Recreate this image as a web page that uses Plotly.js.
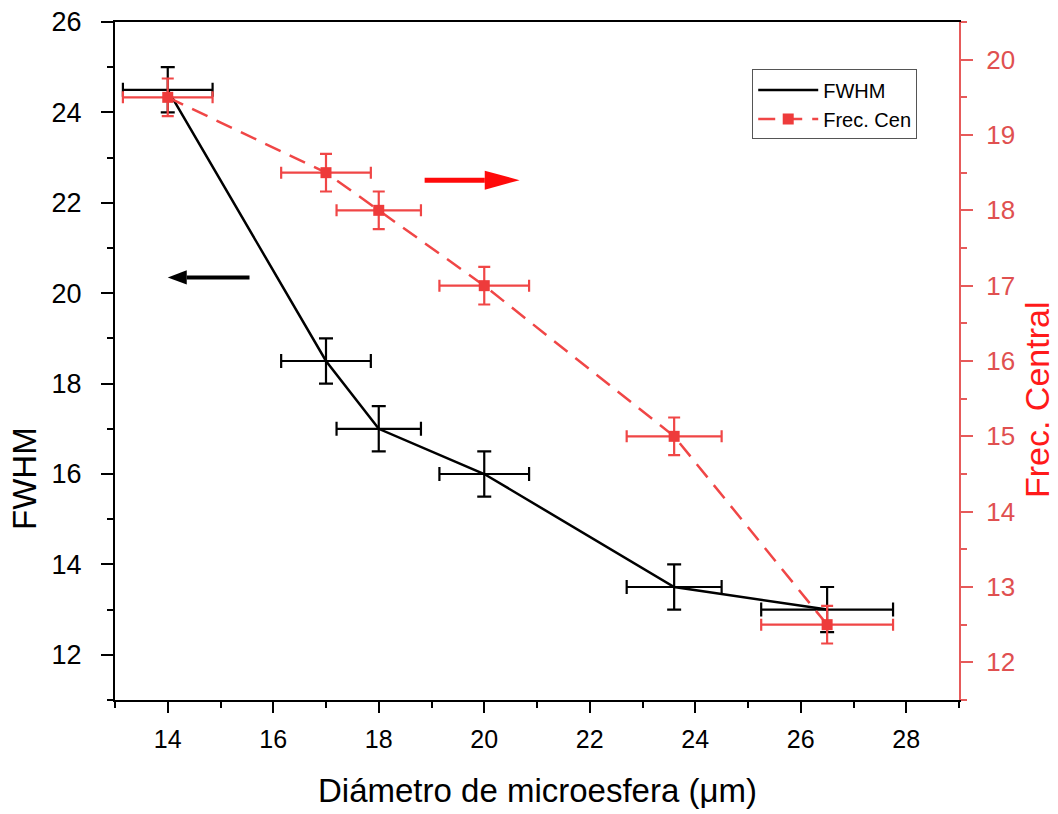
<!DOCTYPE html>
<html>
<head>
<meta charset="utf-8">
<script src="https://cdn.plot.ly/plotly-3.0.1.min.js"></script>
<style>
  html, body { margin: 0; padding: 0; background: #ffffff; }
  #chart { width: 1058px; height: 814px; }
</style>
</head>
<body>
<div id="chart"></div>
<script>
// Microsphere diameter (µm) with its uncertainty
const diameter = [14, 17, 18, 20, 23.6, 26.5];
const diameterErr = [0.85, 0.85, 0.8, 0.85, 0.9, 1.25];

// Linewidth (FWHM), left axis
const fwhm = [24.5, 18.5, 17, 16, 13.5, 13];
const fwhmErr = [0.5, 0.5, 0.5, 0.5, 0.5, 0.5];

// Central frequency, right axis
const frecCentral = [19.5, 18.5, 18, 17, 15, 12.5];
const frecErr = [0.25, 0.25, 0.25, 0.25, 0.25, 0.25];

const seriesNames = ['FWHM', 'Frec. Cen'];
const axisTitles = {
  x: 'Diámetro de microesfera (μm)',
  left: 'FWHM',
  right: 'Frec. Central'
};

const FONT = 'Liberation Sans, Arial, Helvetica, sans-serif';
const RED = '#f04646';
const RED_AXIS = '#e65a5a';

const traces = [
  {
    x: diameter,
    y: fwhm,
    name: seriesNames[0],
    type: 'scatter',
    mode: 'lines',
    line: { color: '#000000', width: 2.5 },
    error_x: { type: 'data', array: diameterErr, visible: true, color: '#000000', thickness: 2.2, width: 7 },
    error_y: { type: 'data', array: fwhmErr, visible: true, color: '#000000', thickness: 2.2, width: 7 },
    yaxis: 'y'
  },
  {
    x: diameter,
    y: frecCentral,
    name: seriesNames[1],
    type: 'scatter',
    mode: 'lines+markers',
    line: { color: RED, width: 2.5, dash: '17px,10px' },
    marker: { symbol: 'square', size: 11, color: '#ee3b3b' },
    error_x: { type: 'data', array: diameterErr, visible: true, color: RED, thickness: 2.2, width: 6 },
    error_y: { type: 'data', array: frecErr, visible: true, color: RED, thickness: 2.2, width: 6 },
    yaxis: 'y2'
  }
];

// Direction arrows pointing to each series' axis
const arrowY = { left: 20.35, right: 22.5 };
function arrowShapes(x0, x1, y, headLen, headHalf, color, width) {
  const dir = Math.sign(x1 - x0);
  const base = x1 - dir * headLen;
  return [
    { type: 'line', xref: 'x', yref: 'y', x0: x0, x1: base, y0: y, y1: y,
      line: { color: color, width: width } },
    { type: 'path', xref: 'x', yref: 'y',
      path: `M${base},${y - headHalf} L${x1},${y} L${base},${y + headHalf} Z`,
      fillcolor: color, line: { color: color, width: 0 } }
  ];
}
const shapes = []
  .concat(arrowShapes(15.55, 14.0, arrowY.left, 0.36, 0.16, '#000000', 4))
  .concat(arrowShapes(18.87, 20.67, arrowY.right, 0.66, 0.21, '#ff0a0a', 5));

// Axis titles placed as paper-anchored annotations
const annotations = [
  { text: axisTitles.x, xref: 'paper', yref: 'paper', x: 0.5, y: -0.133,
    xanchor: 'center', yanchor: 'middle', showarrow: false,
    font: { family: FONT, size: 33, color: '#000000' } },
  { text: axisTitles.left, xref: 'paper', yref: 'paper', x: -0.107, y: 0.327,
    xanchor: 'center', yanchor: 'middle', showarrow: false, textangle: -90,
    font: { family: FONT, size: 33, color: '#000000' } },
  { text: axisTitles.right, xref: 'paper', yref: 'paper', x: 1.0925, y: 0.4425,
    xanchor: 'center', yanchor: 'middle', showarrow: false, textangle: -90,
    font: { family: FONT, size: 34, color: '#ff1a1a' } }
];

const layout = {
  width: 1058,
  height: 814,
  margin: { l: 115, r: 99, t: 22, b: 114 },
  paper_bgcolor: '#ffffff',
  plot_bgcolor: '#ffffff',
  font: { family: FONT, color: '#000000' },
  showlegend: true,
  legend: {
    x: 0.755, y: 0.93, xanchor: 'left', yanchor: 'top',
    bgcolor: '#ffffff', bordercolor: '#555555', borderwidth: 1,
    font: { family: FONT, size: 20, color: '#000000' },
    itemwidth: 60,
    tracegroupgap: 0
  },
  xaxis: {
    range: [13, 29],
    dtick: 2,
    tick0: 0,
    ticks: 'outside',
    ticklen: 11,
    tickwidth: 2,
    tickcolor: '#000000',
    minor: { dtick: 1, ticks: 'outside', ticklen: 6, tickwidth: 2, tickcolor: '#000000' },
    showline: true,
    linecolor: '#000000',
    linewidth: 2,
    mirror: true,
    showgrid: false,
    zeroline: false,
    ticklabelstandoff: 5,
    tickfont: { family: FONT, size: 25, color: '#000000' }
  },
  yaxis: {
    range: [11, 26],
    dtick: 2,
    tick0: 0,
    ticks: 'outside',
    ticklen: 12,
    tickwidth: 2,
    tickcolor: '#000000',
    minor: { dtick: 1, ticks: 'outside', ticklen: 6, tickwidth: 2, tickcolor: '#000000' },
    showline: true,
    linecolor: '#000000',
    linewidth: 2,
    showgrid: false,
    zeroline: false,
    ticklabelstandoff: 14,
    tickfont: { family: FONT, size: 27, color: '#000000' }
  },
  yaxis2: {
    overlaying: 'y',
    side: 'right',
    range: [11.5, 20.5],
    dtick: 1,
    tick0: 0,
    ticks: 'outside',
    ticklen: 12,
    tickwidth: 2,
    tickcolor: RED_AXIS,
    minor: { dtick: 0.5, ticks: 'outside', ticklen: 6, tickwidth: 2, tickcolor: RED_AXIS },
    showline: true,
    linecolor: RED_AXIS,
    linewidth: 2,
    showgrid: false,
    zeroline: false,
    ticklabelstandoff: 8,
    tickfont: { family: FONT, size: 26, color: '#e05050' }
  },
  shapes: shapes,
  annotations: annotations
};

Plotly.newPlot('chart', traces, layout, { displayModeBar: false, staticPlot: true });
</script>
</body>
</html>
